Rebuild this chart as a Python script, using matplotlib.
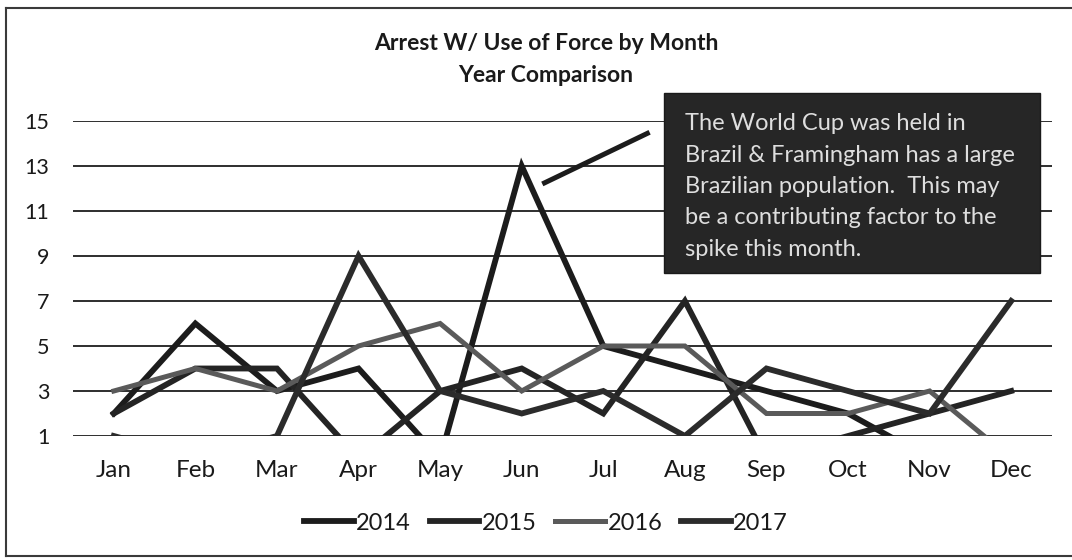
import matplotlib
matplotlib.use("Agg")
import matplotlib.pyplot as plt
from matplotlib.lines import Line2D
from matplotlib.patches import Rectangle

plt.rcParams['font.family'] = ['Lato', 'DejaVu Sans']

months = ['Jan', 'Feb', 'Mar', 'Apr', 'May', 'Jun', 'Jul', 'Aug', 'Sep', 'Oct', 'Nov', 'Dec']
y2014 = [2, 6, 3, 4, 0, 13, 5, 4, 3, 2, 0, 0]
y2015 = [2, 4, 4, 0, 3, 4, 2, 7, 0, 1, 2, 3]
y2016 = [3, 4, 3, 5, 6, 3, 5, 5, 2, 2, 3, 0]
y2017 = [1, 0, 1, 9, 3, 2, 3, 1, 4, 3, 2, 7]
series_labels = ['2014', '2015', '2016', '2017']
y_ticks = [1, 3, 5, 7, 9, 11, 13, 15]
title_lines = ['Arrest W/ Use of Force by Month', 'Year Comparison']
note_lines = ['The World Cup was held in',
              'Brazil & Framingham has a large',
              'Brazilian population.  This may',
              'be a contributing factor to the',
              'spike this month.']

W, H = 1072, 560
fig = plt.figure(figsize=(W / 100, H / 100), dpi=100)
fig.patch.set_facecolor('white')

ax = fig.add_axes([73 / W, 1 - 436 / H, 979 / W, 315 / H])
ax.set_facecolor('none')
x = list(range(len(months)))

colors = ['#1c1c1c', '#242424', '#5a5a5a', '#2b2b2b']
widths = [4.2, 4.2, 3.6, 4.2]
for vals, lab, c, lw in zip([y2014, y2015, y2016, y2017], series_labels, colors, widths):
    ax.plot(x, vals, color=c, lw=lw, label=lab, solid_joinstyle='miter', zorder=3)

ax.set_xlim(-0.5, len(months) - 0.5)
ax.set_ylim(1, 15)
ax.set_yticks(y_ticks)
ax.set_yticklabels([str(t) for t in y_ticks], fontsize=15.5, color='#1a1a1a')
ax.set_xticks(x)
ax.set_xticklabels(months, fontsize=17.5, color='#1a1a1a')
ax.tick_params(axis='both', length=0)
ax.tick_params(axis='y', pad=17)
ax.tick_params(axis='x', pad=17)
for s in ax.spines.values():
    s.set_visible(False)
for t in y_ticks:
    ax.axhline(t, color='#2e2e2e', lw=1.4, zorder=1)

# callout connector (in data coordinates)
ax.add_line(Line2D([5.28, 6.54], [12.25, 14.45], color='#1c1c1c', lw=3.6, zorder=4, clip_on=False))

# title
for i, ln in enumerate(title_lines):
    fig.text(546 / W, 1 - (43 + 32 * i) / H, ln, ha='center', va='center', fontsize=16.5,
             fontweight='bold', color='#1a1a1a')

# annotation box
fig.add_artist(Rectangle((664 / W, 1 - 273 / H), (1040 - 664) / W, (273 - 93) / H,
                         transform=fig.transFigure, facecolor='#262626', edgecolor='#1a1a1a',
                         lw=1, zorder=5))
for i, ln in enumerate(note_lines):
    fig.text(685 / W, 1 - (130 + 31.5 * i) / H, ln, ha='left', va='baseline',
             fontsize=17, color='#dedede', zorder=6)

# legend
leg = fig.legend(*ax.get_legend_handles_labels(), loc='center', bbox_to_anchor=(546 / W, 1 - 523 / H),
                 ncol=4, frameon=False, fontsize=17, handlelength=2.1, handletextpad=0.1,
                 columnspacing=0.8)
for t in leg.get_texts():
    t.set_color('#1a1a1a')

# outer border
fig.add_artist(Line2D([6 / W, 6 / W], [1 - 556 / H, 1 - 8 / H], transform=fig.transFigure,
                      color='#3a3a3a', lw=1.5))
fig.add_artist(Line2D([6 / W, 1.0], [1 - 8 / H, 1 - 8 / H], transform=fig.transFigure,
                      color='#3a3a3a', lw=1.5))
fig.add_artist(Line2D([6 / W, 1.0], [1 - 556 / H, 1 - 556 / H], transform=fig.transFigure,
                      color='#3a3a3a', lw=1.5))

fig.savefig('out.png', dpi=100, facecolor='white')
